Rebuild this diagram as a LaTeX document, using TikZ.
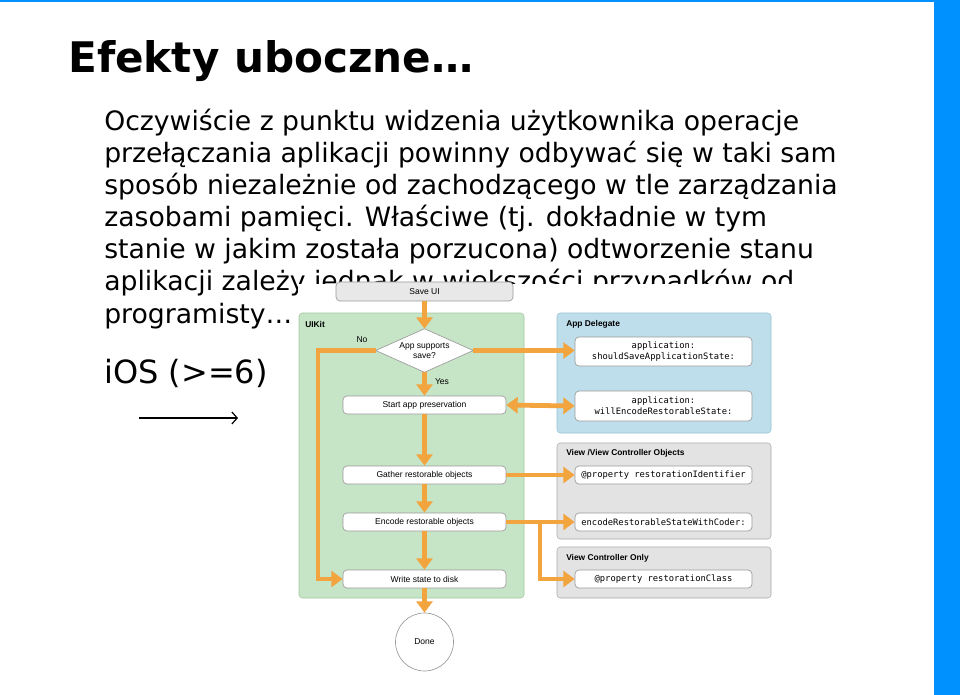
\documentclass[tikz,border=0pt]{standalone}
\usepackage{fontspec}
\setmainfont{DejaVu Sans}
\newfontfamily\diag{Liberation Sans}
\newfontfamily\dmono{DejaVu Sans Mono}
\usetikzlibrary{arrows.meta,shapes.geometric}
\definecolor{barblue}{HTML}{0091FF}
\definecolor{orng}{HTML}{F2A53E}
\definecolor{pgreen}{HTML}{C6E4C6}
\definecolor{pgreenb}{HTML}{A3C8A3}
\definecolor{pblue}{HTML}{BEDEEB}
\definecolor{pblueb}{HTML}{98C2D3}
\definecolor{pgray}{HTML}{E3E3E3}
\definecolor{pgrayb}{HTML}{AAAAAA}
\definecolor{boxb}{HTML}{9A9A9A}
\tikzset{
  bodyline/.style={anchor=base west, inner sep=0pt, font=\fontsize{20}{24}\selectfont},
  panel/.style={rounded corners=2.5pt, inner sep=0pt},
  plabel/.style={anchor=west, inner sep=0pt, font=\diag\fontsize{6.3}{7}\selectfont\bfseries},
  wbox/.style={draw=boxb, fill=white, rounded corners=3pt, inner sep=0pt, line width=0.5pt,
    minimum width=122.25pt, minimum height=13.5pt, font=\diag\fontsize{6.4}{7.5}\selectfont},
  mbox/.style={draw=boxb, fill=white, rounded corners=3pt, inner sep=0pt, line width=0.5pt,
    minimum width=132.75pt, minimum height=13.5pt, align=center,
    font=\dmono\fontsize{6.6}{8}\selectfont},
  oarr/.style={draw=orng, line width=3.6pt, -{Triangle[length=8.5pt,width=12pt]}},
  oarrb/.style={draw=orng, line width=3.6pt, {Triangle[length=8.5pt,width=12pt]}-{Triangle[length=8.5pt,width=12pt]}},
  smalltxt/.style={inner sep=0pt, font=\diag\fontsize{6.4}{7.5}\selectfont},
}
\begin{document}
\begin{tikzpicture}[x=0.75pt,y=-0.75pt]
\useasboundingbox (0,0) rectangle (960,695);
\fill[white] (0,0) rectangle (960,695);
% frame
\fill[barblue] (934,0) rectangle (960,695);
\fill[barblue] (0,0) rectangle (934,2.5);
% title
\node[anchor=base west, inner sep=0pt, font=\fontsize{31.6}{36}\selectfont\bfseries] (title) at (68,73) {Efekty uboczne…};
% body
\node[bodyline] (l1) at (104,131) {Oczywiście z punktu widzenia użytkownika operacje};
\node[bodyline] (l2) at (104,163) {przełączania aplikacji powinny odbywać się w taki sam};
\node[bodyline] (l3) at (104,195) {sposób niezależnie od zachodzącego w tle zarządzania};
\node[bodyline] (l4) at (104,227) {zasobami pamięci. Właściwe (tj. dokładnie w tym};
\node[bodyline] (l5) at (104,259) {stanie w jakim została porzucona) odtworzenie stanu};
\node[bodyline] (l6) at (104,291) {aplikacji zależy jednak w większości przypadków od};
\node[bodyline] (l7) at (104,323) {programisty…};
\node[anchor=base west, inner sep=0pt, font=\fontsize{24}{28}\selectfont] (ios) at (104,383) {iOS (>=6)};
\coordinate (ia) at (139,418);
\coordinate (ib) at (238,418);
\draw[line width=0.9pt, -{Straight Barb[length=4pt,width=9pt]}] (ia) -- (ib);
% diagram background (image)
\fill[white] (298,284) rectangle (800,695);
% panels
\node[panel, draw=pgreenb, fill=pgreen, minimum width=168.75pt, minimum height=213.75pt] (uikit) at (411.5,455.5) {};
\node[plabel] (uikitl) at (305,324) {UIKit};
\node[panel, draw=pblueb, fill=pblue, minimum width=160.5pt, minimum height=90pt] (appdel) at (664,373) {};
\node[plabel] (appdell) at (566,324) {App Delegate};
\node[panel, draw=pgrayb, fill=pgray, minimum width=160.5pt, minimum height=72pt] (vvc) at (664,491) {};
\node[plabel] (vvcl) at (566,453) {View /View Controller Objects};
\node[panel, draw=pgrayb, fill=pgray, minimum width=160.5pt, minimum height=38.25pt] (vco) at (664,572.5) {};
\node[plabel] (vcol) at (566,558) {View Controller Only};
% left flow
\node[wbox, fill=gray!18, minimum width=132.75pt, minimum height=14.25pt] (saveui) at (424.5,291.5) {Save UI};
\node[inner sep=0pt, minimum width=72.75pt, minimum height=32.25pt] (dia) at (424.5,350.5) {};
\draw[boxb, fill=white, line width=0.5pt] (dia.north) -- (dia.east) -- (dia.south) -- (dia.west) -- cycle;
\node[smalltxt, align=center] (diat) at (424.5,351) {App supports\\save?};
\node[wbox] (start) at (424.5,405) {Start app preservation};
\node[wbox] (gather) at (424.5,475) {Gather restorable objects};
\node[wbox] (encode) at (424.5,522) {Encode restorable objects};
\node[wbox] (write) at (424.5,579) {Write state to disk};
\node[circle, draw=boxb, line width=0.5pt, minimum size=43.5pt, inner sep=0pt, smalltxt] (done) at (424.5,642) {Done};
\node[smalltxt] (no) at (362,340) {No};
\node[smalltxt] (yes) at (442,382) {Yes};
% right boxes
\node[mbox, minimum height=21.75pt] (ad1) at (663.5,351.5) {application:\\shouldSaveApplicationState:};
\node[mbox, minimum height=22.5pt] (ad2) at (663.5,406) {application:\\willEncodeRestorableState:};
\node[mbox] (rid) at (663.5,475) {@property restorationIdentifier};
\node[mbox] (enc) at (663.5,522) {encodeRestorableStateWithCoder:};
\node[mbox] (rcl) at (663.5,579) {@property restorationClass};
% arrows
\coordinate (nocorner) at (318,350.5);
\coordinate (br) at (540,522);
\draw[oarr] (saveui.south) -- (dia.north);
\draw[oarr] (dia.south) -- (start.north);
\draw[oarr] (dia.east) -- (dia.east -| ad1.west);
\draw[oarrb] (start.east) -- (ad2.west);
\draw[oarr] (start.south) -- (gather.north);
\draw[oarr] (gather.east) -- (rid.west);
\draw[oarr] (gather.south) -- (encode.north);
\draw[oarr] (encode.east) -- (enc.west);
\draw[oarr] (br) |- (rcl.west);
\draw[oarr] (encode.south) -- (write.north);
\draw[oarr] (dia.west) -- (nocorner) |- (write.west);
\draw[oarr] (write.south) -- (done.north);
\end{tikzpicture}
\end{document}
